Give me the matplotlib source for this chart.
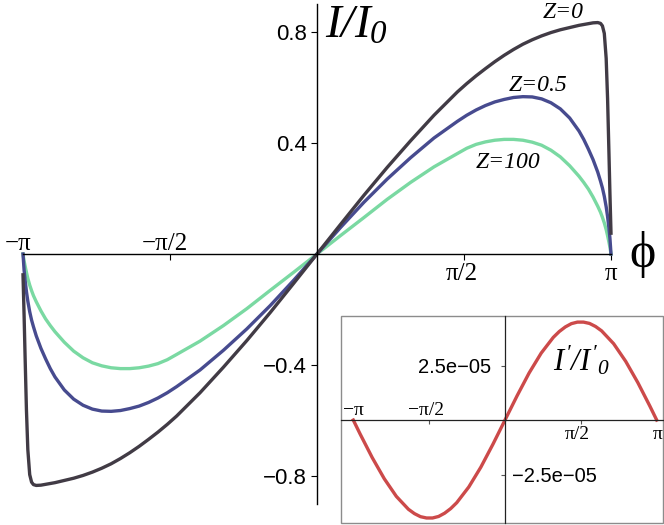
import numpy as np
import matplotlib
matplotlib.use('Agg')
import matplotlib.pyplot as plt
from matplotlib.patches import Rectangle

# all math text in this figure is italic serif, digits included
plt.rcParams['mathtext.fontset'] = 'custom'
plt.rcParams['mathtext.it'] = 'Liberation Serif:italic'
plt.rcParams['mathtext.rm'] = 'Liberation Serif:italic'

# Main plot data
phi = [-3.1416, -3.13, -3.12, -3.105, -3.09, -3.07, -3.05, -3.03, -3.0, -2.95, -2.9, -2.85, -2.8,
       -2.7, -2.6, -2.5, -2.4, -2.3, -2.2, -2.1, -2.0, -1.9, -1.8, -1.7, -1.6, -1.5,
       -1.25, -1.0, -0.75, -0.5, -0.25,
       0.0,
       0.25, 0.5, 0.75, 1.0, 1.25,
       1.5, 1.6, 1.7, 1.8, 1.9, 2.0, 2.1, 2.2, 2.3, 2.4, 2.5, 2.6, 2.7,
       2.8, 2.85, 2.9, 2.95, 3.0, 3.03, 3.05, 3.07, 3.09, 3.105, 3.12, 3.13, 3.1416]

i_z0 = [-0.075, -0.220, -0.360, -0.560, -0.705, -0.795, -0.822, -0.831, -0.834, -0.833, -0.830, -0.827, -0.824,
        -0.816, -0.808, -0.798, -0.786, -0.772, -0.756, -0.737, -0.716, -0.693, -0.668, -0.642, -0.614, -0.584,
        -0.500, -0.408, -0.312, -0.211, -0.106,
        0.0,
        0.106, 0.211, 0.312, 0.408, 0.500,
        0.584, 0.614, 0.642, 0.668, 0.693, 0.716, 0.737, 0.756, 0.772, 0.786, 0.798, 0.808, 0.816,
        0.824, 0.827, 0.830, 0.833, 0.834, 0.831, 0.822, 0.795, 0.705, 0.560, 0.360, 0.220, 0.075]

i_z05 = [0.0, -0.058, -0.092, -0.135, -0.170, -0.208, -0.238, -0.262, -0.295, -0.340, -0.378, -0.413, -0.443,
         -0.490, -0.523, -0.545, -0.559, -0.566, -0.567, -0.564, -0.557, -0.548, -0.535, -0.519, -0.500, -0.478,
         -0.418, -0.347, -0.270, -0.186, -0.095,
         0.0,
         0.095, 0.186, 0.270, 0.347, 0.418,
         0.478, 0.500, 0.519, 0.535, 0.548, 0.557, 0.564, 0.567, 0.566, 0.559, 0.545, 0.523, 0.490,
         0.443, 0.413, 0.378, 0.340, 0.295, 0.262, 0.238, 0.208, 0.170, 0.135, 0.092, 0.058, 0.0]

i_z100 = [0.0, -0.025, -0.042, -0.066, -0.088, -0.112, -0.132, -0.150, -0.172, -0.205, -0.234, -0.258, -0.280,
          -0.318, -0.350, -0.374, -0.392, -0.403, -0.410, -0.413, -0.413, -0.410, -0.404, -0.395, -0.381, -0.362,
          -0.314, -0.258, -0.197, -0.131, -0.066,
          0.0,
          0.066, 0.131, 0.197, 0.258, 0.314,
          0.362, 0.381, 0.395, 0.404, 0.410, 0.413, 0.413, 0.410, 0.403, 0.392, 0.374, 0.350, 0.318,
          0.280, 0.258, 0.234, 0.205, 0.172, 0.150, 0.132, 0.112, 0.088, 0.066, 0.042, 0.025, 0.0]

xtick_pos = [-np.pi, -np.pi / 2, np.pi / 2, np.pi]
xtick_labels = ['\u2212\u03c0', '\u2212\u03c0/2', '\u03c0/2', '\u03c0']
ytick_pos = [-0.8, -0.4, 0.4, 0.8]
ytick_labels = ['\u22120.8', '\u22120.4', '0.4', '0.8']

# Inset data (values in units of 1e-5)
red_phi = [-3.1416, -3.0, -2.75, -2.5, -2.25, -2.0, -1.875, -1.75, -1.625, -1.5, -1.375, -1.25, -1.125,
           -1.0, -0.75, -0.5, -0.25, 0.0, 0.25, 0.5, 0.75, 1.0,
           1.125, 1.25, 1.375, 1.5, 1.625, 1.75, 1.875, 2.0, 2.25, 2.5, 2.75, 3.0, 3.1416]
red_val = [0.0, -0.64, -1.72, -2.69, -3.50, -4.09, -4.29, -4.43, -4.49, -4.49, -4.42, -4.27, -4.06,
           -3.79, -3.07, -2.16, -1.11, 0.0, 1.11, 2.16, 3.07, 3.79,
           4.06, 4.27, 4.42, 4.49, 4.49, 4.43, 4.29, 4.09, 3.50, 2.69, 1.72, 0.64, 0.0]
in_ytick_pos = [-2.5e-5, 2.5e-5]
in_ytick_labels = ['\u22122.5e\u221205', '2.5e\u221205']

serif = 'Liberation Serif'
sans = 'Liberation Sans'

fig = plt.figure(figsize=(6.64, 5.25), dpi=100)

# Main axes, crossing at the origin
ax = fig.add_axes([23 / 664, 21.25 / 525, 588 / 664, 499.5 / 525])
ax.set_xlim(-np.pi, np.pi)
ax.set_ylim(-0.9, 0.9)
for s in ['top', 'right']:
    ax.spines[s].set_visible(False)
for s in ['left', 'bottom']:
    ax.spines[s].set_position(('data', 0))
    ax.spines[s].set_linewidth(1.0)
ax.set_xticks(xtick_pos)
ax.set_xticklabels([])
ax.set_yticks(ytick_pos)
ax.set_yticklabels(ytick_labels, fontfamily=sans, fontsize=16)
ax.tick_params(axis='x', direction='out', length=4, width=0.8)
ax.tick_params(axis='y', direction='out', length=4, width=0.8, pad=3)

# negative phi labels above the axis, positive ones below
for pos, lab in zip(xtick_pos, xtick_labels):
    if pos < 0:
        ax.annotate(lab, (pos, 0), xytext=(-5, 4), textcoords='offset pixels',
                    ha='center', va='baseline', fontfamily=serif, fontsize=18)
    else:
        ax.annotate(lab, (pos, 0), xytext=(-2 if pos < 3 else 0, -26), textcoords='offset pixels',
                    ha='center', va='baseline', fontfamily=serif, fontsize=18)

ax.plot(phi, i_z100, color='#7ad9a2', lw=2.4, clip_on=False, solid_joinstyle='round')
ax.plot(phi, i_z05, color='#474b8f', lw=2.4, clip_on=False, solid_joinstyle='round')
ax.plot(phi, i_z0, color='#413b45', lw=2.4, clip_on=False, solid_joinstyle='round')

ax.text(2.63, 0.872, 'Z=0', fontfamily=serif, style='italic', fontsize=17, ha='center', va='center')
ax.text(2.36, 0.609, 'Z=0.5', fontfamily=serif, style='italic', fontsize=17, ha='center', va='center')
ax.text(2.04, 0.328, 'Z=100', fontfamily=serif, style='italic', fontsize=17, ha='center', va='center')
ax.text(0.085, 0.778, r'$I/I_0$', fontsize=34, ha='left', va='baseline')
ax.text(3.483, 0.0, '\u03d5', fontfamily=serif, fontsize=36, ha='center', va='center')

# Inset
axi = fig.add_axes([341 / 664, 2 / 525, 322 / 664, 207 / 525])
axi.set_xlim(-3.396, 3.272)
axi.set_ylim(-4.72e-5, 4.77e-5)
for s in ['top', 'right']:
    axi.spines[s].set_visible(False)
for s in ['left', 'bottom']:
    axi.spines[s].set_position(('data', 0))
    axi.spines[s].set_linewidth(0.9)
    axi.spines[s].set_color('#222222')
axi.add_patch(Rectangle((0, 0), 1, 1, transform=axi.transAxes, fill=False,
                        edgecolor='#8c8c8c', lw=1.0, clip_on=False))
axi.set_xticks([-np.pi / 2, np.pi / 2])
axi.set_xticklabels([])
axi.set_yticks(in_ytick_pos)
axi.set_yticklabels([])
axi.tick_params(axis='both', direction='out', length=3, width=0.8, color='#555555')

for pos, lab in zip(xtick_pos, xtick_labels):
    if pos < 0:
        axi.annotate(lab, (pos, 0), xytext=(-3 if pos > -3 else 0, 5), textcoords='offset pixels',
                     ha='center', va='baseline', fontfamily=serif, fontsize=14)
    else:
        axi.annotate(lab, (pos, 0), xytext=(-4 if pos < 3 else 1, -19), textcoords='offset pixels',
                     ha='center', va='baseline', fontfamily=serif, fontsize=14)
for pos, lab in zip(in_ytick_pos, in_ytick_labels):
    if pos > 0:
        axi.annotate(lab, (0, pos), xytext=(-14, 0), textcoords='offset pixels',
                     ha='right', va='center_baseline', fontfamily=sans, fontsize=14.5)
    else:
        axi.annotate(lab, (0, pos), xytext=(7, 0), textcoords='offset pixels',
                     ha='left', va='center_baseline', fontfamily=sans, fontsize=14.5)

axi.plot(red_phi, np.array(red_val) * 1e-5, color='#cc4a4a', lw=2.4, clip_on=False,
         solid_joinstyle='round')
axi.text(0.994, 2.25e-5, r"$I'/I'_0$", fontsize=22, ha='left', va='baseline')

fig.savefig('out.png', dpi=100)
